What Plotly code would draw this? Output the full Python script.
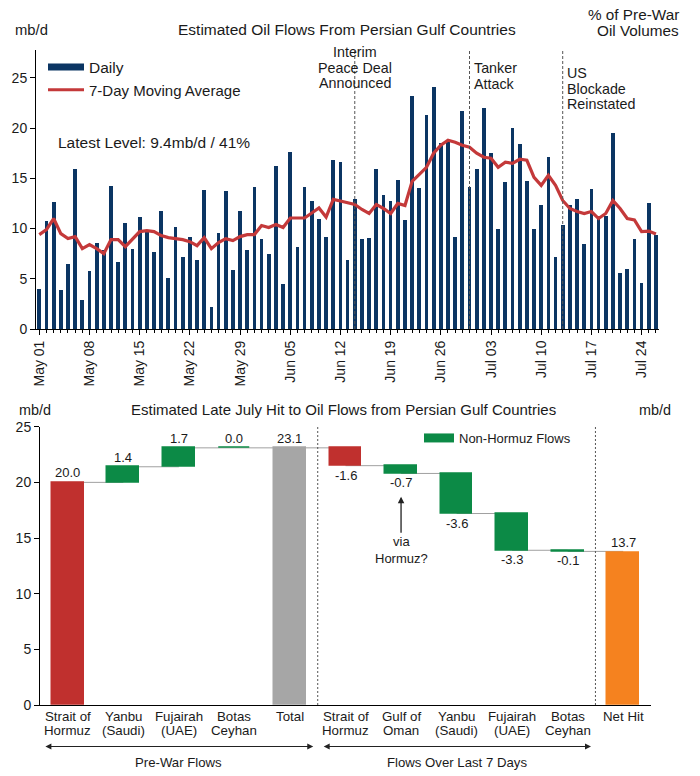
import pandas as pd
import plotly.graph_objects as go

FONT = "Arial, Liberation Sans, sans-serif"
W, H = 700, 776

NAVY = "#0B3563"
MA_RED = "#C4393A"
RED = "#C0302E"
GREEN = "#0C8A46"
GREY = "#A6A6A6"
ORANGE = "#F5821F"

# ---- top chart data ----
start_date = "2026-05-01"
daily = [4.0, 10.8, 12.6, 3.85, 6.5, 15.9, 2.9, 5.75, 8.6, 7.9,
         14.2, 6.7, 10.6, 8.0, 11.2, 9.7, 7.7, 11.7, 5.1, 10.2,
         7.2, 9.2, 6.85, 13.8, 2.15, 9.6, 13.7, 5.9, 11.7, 7.85,
         14.1, 9.0, 7.5, 16.2, 4.5, 17.6, 8.2, 14.1, 12.75, 11.0,
         9.2, 16.8, 16.6, 6.85, 12.9, 8.97, 9.1, 15.9, 13.3, 12.7,
         14.8, 10.85, 23.2, 14.0, 21.3, 24.1, 18.5, 18.6, 9.2, 21.7,
         14.1, 15.9, 22.0, 17.5, 10.0, 14.6, 20.0, 18.4, 14.7, 9.95,
         12.3, 17.1, 7.2, 10.35, 12.3, 12.9, 8.5, 13.9, 11.3, 11.3,
         19.55, 5.55, 6.0, 9.0, 4.6, 12.5, 9.4]
moving_avg = [9.4, 9.9, 11.0, 9.5, 9.0, 9.2, 8.0, 8.4, 8.0, 7.5,
              8.9, 8.9, 8.2, 9.0, 9.7, 9.8, 9.7, 9.3, 9.1, 9.0,
              8.9, 8.7, 8.3, 9.1, 8.0, 8.6, 9.0, 8.8, 9.2, 9.4,
              9.4, 10.3, 10.1, 10.4, 10.1, 11.05, 11.05, 11.05, 11.55, 12.05,
              11.15, 12.9, 12.75, 12.6, 12.4, 11.9, 11.5, 12.4, 12.0, 11.5,
              12.5, 12.3, 14.7, 15.4, 16.1, 17.5, 18.3, 18.8, 18.6, 18.3,
              18.1, 17.5, 17.1, 17.0, 16.1, 16.6, 16.5, 16.9, 16.8, 15.1,
              14.3, 15.3, 14.3, 12.8, 12.0, 11.7, 11.5, 11.7, 11.0, 11.5,
              12.8, 12.0, 11.0, 10.85, 9.7, 9.75, 9.45]
prewar_total = 23.15  # mb/d equal to 100% on the right axis

events = ["2026-06-14", "2026-06-30", "2026-07-13"]
event_text = [["Interim", "Peace Deal", "Announced"],
              ["Tanker", "Attack"],
              ["US", "Blockade", "Reinstated"]]

# ---- bottom chart data ----
hit_labels = ["Strait of\nHormuz", "Yanbu\n(Saudi)", "Fujairah\n(UAE)", "Botas\nCeyhan", "Total",
              "Strait of\nHormuz", "Gulf of\nOman", "Yanbu\n(Saudi)", "Fujairah\n(UAE)", "Botas\nCeyhan",
              "Net Hit"]
hit_values = [20.0, 1.4, 1.7, 0.0, 23.1, -1.6, -0.7, -3.6, -3.3, -0.1, 13.7]
hit_kinds = ["absolute", "relative", "relative", "relative", "total",
             "relative", "relative", "relative", "relative", "relative", "total"]
hit_groups = ["hormuz", "other", "other", "other", "total",
              "hormuz", "other", "other", "other", "other", "net"]
group_colors = {"hormuz": RED, "other": GREEN, "total": GREY, "net": ORANGE}


def px(x):
    return x / W


def py(y):
    return 1 - y / H


dates = pd.date_range(start_date, periods=len(daily), freq="D")
day = pd.Timedelta(days=1)

fig = go.Figure()

fig.add_trace(go.Bar(x=dates, y=daily, marker_color=NAVY, marker_line_width=0,
                     width=0.52 * 86400000, showlegend=False, xaxis="x", yaxis="y"))
fig.add_trace(go.Scatter(x=dates, y=moving_avg, mode="lines", line=dict(color=MA_RED, width=3.2),
                         name="7-Day Moving Average", legend="legend2", xaxis="x", yaxis="y"))
fig.add_trace(go.Scatter(x=[None], y=[None], mode="lines", line=dict(color=NAVY, width=7),
                         name="Daily", legend="legend", xaxis="x", yaxis="y"))

# waterfall built from floating bars
level = 0.0
bases, heights, ends = [], [], []
for v, kind in zip(hit_values, hit_kinds):
    if kind == "relative":
        bases.append(level if v >= 0 else level + v)
        heights.append(abs(v))
        level += v
    else:
        bases.append(0.0)
        heights.append(v)
        level = v
    ends.append(level)

idx = list(range(len(hit_values)))
fig.add_trace(go.Bar(x=idx, y=heights, base=bases, width=0.57,
                     marker=dict(color=[group_colors[g] for g in hit_groups],
                                 line=dict(color=[group_colors[g] for g in hit_groups], width=1.5)),
                     showlegend=False, xaxis="x3", yaxis="y3"))
fig.add_trace(go.Scatter(x=[None], y=[None], mode="lines", line=dict(color=GREEN, width=9),
                         name="Non-Hormuz Flows", legend="legend3", xaxis="x3", yaxis="y3"))

shapes = []
annotations = []

# connectors
for i in range(len(hit_values) - 1):
    shapes.append(dict(type="line", xref="x3", yref="y3", x0=i, x1=i + 1, y0=ends[i], y1=ends[i],
                       line=dict(color="#A0A0A0", width=1), layer="below"))

# event lines and labels
for k, (ev, lines) in enumerate(zip(events, event_text)):
    shapes.append(dict(type="line", xref="x", yref="y domain", x0=ev, x1=ev, y0=0, y1=1,
                       line=dict(color="#555555", width=1, dash="3px,2px")))
    first = [52, 68, 73][k]
    for j, t in enumerate(lines):
        annotations.append(dict(xref="x", yref="paper", x=ev, y=py(first + 15.5 * j),
                                text=t, showarrow=False,
                                xanchor="center" if k == 0 else "left",
                                xshift=0 if k == 0 else 2,
                                yanchor="middle", font=dict(size=14.3)))

# waterfall value labels
for i, (v, kind) in enumerate(zip(hit_values, hit_kinds)):
    top = bases[i] + heights[i]
    if v >= 0 or kind != "relative":
        annotations.append(dict(xref="x3", yref="y3", x=i, y=top, text=f"{v:.1f}", showarrow=False,
                                yanchor="bottom", yshift=0, font=dict(size=13)))
    else:
        annotations.append(dict(xref="x3", yref="y3", x=i, y=bases[i], text=f"{v:.1f}", showarrow=False,
                                yanchor="top", yshift=0, font=dict(size=13)))

# category labels (tight line spacing)
for i, lab in enumerate(hit_labels):
    for j, t in enumerate(lab.split("\n")):
        annotations.append(dict(xref="x3", yref="paper", x=i, y=py(716.5 + 13.5 * j), text=t,
                                showarrow=False, yanchor="middle", font=dict(size=13.3)))

latest_pct = daily[-1] / prewar_total * 100
annotations += [
    dict(xref="paper", yref="paper", x=px(347), y=py(30), text="Estimated Oil Flows From Persian Gulf Countries",
         showarrow=False, font=dict(size=15.5)),
    dict(xref="paper", yref="paper", x=px(13), y=py(30), text="mb/d", xanchor="left",
         showarrow=False, font=dict(size=14.8)),
    dict(xref="paper", yref="paper", x=px(681), y=py(14), text="% of Pre-War", xanchor="right",
         showarrow=False, font=dict(size=15.3)),
    dict(xref="paper", yref="paper", x=px(681), y=py(31), text="Oil Volumes", xanchor="right",
         showarrow=False, font=dict(size=15.3)),
    dict(xref="paper", yref="paper", x=px(56), y=py(142), xanchor="left",
         text=f"Latest Level: {daily[-1]:.1f}mb/d / {latest_pct:.0f}%", showarrow=False, font=dict(size=15.5)),
    dict(xref="paper", yref="paper", x=px(343), y=py(409),
         text="Estimated Late July Hit to Oil Flows from Persian Gulf Countries",
         showarrow=False, font=dict(size=15)),
    dict(xref="paper", yref="paper", x=px(17), y=py(410), text="mb/d", xanchor="left",
         showarrow=False, font=dict(size=14.4)),
    dict(xref="paper", yref="paper", x=px(673), y=py(410), text="mb/d", xanchor="right",
         showarrow=False, font=dict(size=14.4)),
    # via Hormuz? arrow
    dict(xref="x3", yref="y3", x=6, y=18.7, axref="x3", ayref="y3", ax=6, ay=13.9,
         text="via<br>Hormuz?", showarrow=True, arrowhead=2, arrowsize=1, arrowwidth=1.3,
         arrowcolor="#222222", font=dict(size=13)),
    # section arrows
    dict(xref="x3", yref="paper", x=4.42, y=py(746.5), axref="x3", ayref="pixel", ax=-0.43, ay=0,
         text="", showarrow=True, arrowside="end+start", arrowhead=2, arrowsize=1, arrowwidth=1.2,
         arrowcolor="#222222"),
    dict(xref="x3", yref="paper", x=9.42, y=py(746.5), axref="x3", ayref="pixel", ax=4.58, ay=0,
         text="", showarrow=True, arrowside="end+start", arrowhead=2, arrowsize=1, arrowwidth=1.2,
         arrowcolor="#222222"),
    dict(xref="x3", yref="paper", x=2, y=py(762), text="Pre-War Flows", showarrow=False, font=dict(size=13.2)),
    dict(xref="x3", yref="paper", x=7, y=py(762), text="Flows Over Last 7 Days", showarrow=False,
         font=dict(size=13.2)),
]
for a in annotations:
    a.setdefault("yanchor", "middle")

# section separators in the bottom chart
for xs in [4.5, 9.5]:
    shapes.append(dict(type="line", xref="x3", yref="y3 domain", x0=xs, x1=xs, y0=0, y1=1,
                       line=dict(color="#555555", width=1, dash="2px,2px")))

axis_common = dict(showline=True, linecolor="black", linewidth=1, showgrid=False, zeroline=False,
                   automargin=False, ticks="outside", tickcolor="black", ticklen=5,
                   tickfont=dict(size=14))

fig.update_layout(
    width=W, height=H, autosize=False,
    margin=dict(l=0, r=0, t=0, b=0, pad=0),
    paper_bgcolor="white", plot_bgcolor="white",
    font=dict(family=FONT, size=13, color="#1a1a1a"),
    bargap=0,
    xaxis=dict(axis_common, domain=[px(36), px(659)], anchor="y", type="date",
               range=[dates[0] - 0.46 * day, dates[0] + 86.43 * day],
               tick0=start_date, dtick=7 * 86400000, tickformat="%b %d", tickangle=-90,
               minor=dict(dtick=86400000, ticks="outside", ticklen=3, tickcolor="black")),
    yaxis=dict(axis_common, domain=[py(329), py(50)], anchor="x",
               range=[0, prewar_total * 1.2], tickvals=[0, 5, 10, 15, 20, 25]),
    yaxis2=dict(axis_common, overlaying="y", side="right", anchor="x",
                range=[0, 120], dtick=20, tickfont=dict(size=14.5)),
    xaxis3=dict(showline=True, linecolor="black", linewidth=1, showgrid=False, zeroline=False,
                automargin=False, domain=[px(40), px(651)], anchor="y3", range=[-0.5, 10.5],
                showticklabels=False, ticks=""),
    yaxis3=dict(axis_common, domain=[py(705), py(426.7)], anchor="x3", range=[0, 25], dtick=5),
    yaxis4=dict(axis_common, overlaying="y3", side="right", anchor="x3", range=[0, 25], dtick=5),
    legend=dict(x=px(43), y=py(67.5), xanchor="left", yanchor="middle", bgcolor="rgba(0,0,0,0)",
                itemwidth=36, font=dict(size=15.5)),
    legend2=dict(x=px(43), y=py(90), xanchor="left", yanchor="middle", bgcolor="rgba(0,0,0,0)",
                 itemwidth=36, font=dict(size=15)),
    legend3=dict(x=px(419), y=py(438), xanchor="left", yanchor="middle", bgcolor="rgba(0,0,0,0)",
                 itemwidth=30, font=dict(size=13)),
    shapes=shapes,
    annotations=annotations,
)

fig.write_html("out.html", config={"displayModeBar": False},
               post_script="document.body.style.margin='0';")
